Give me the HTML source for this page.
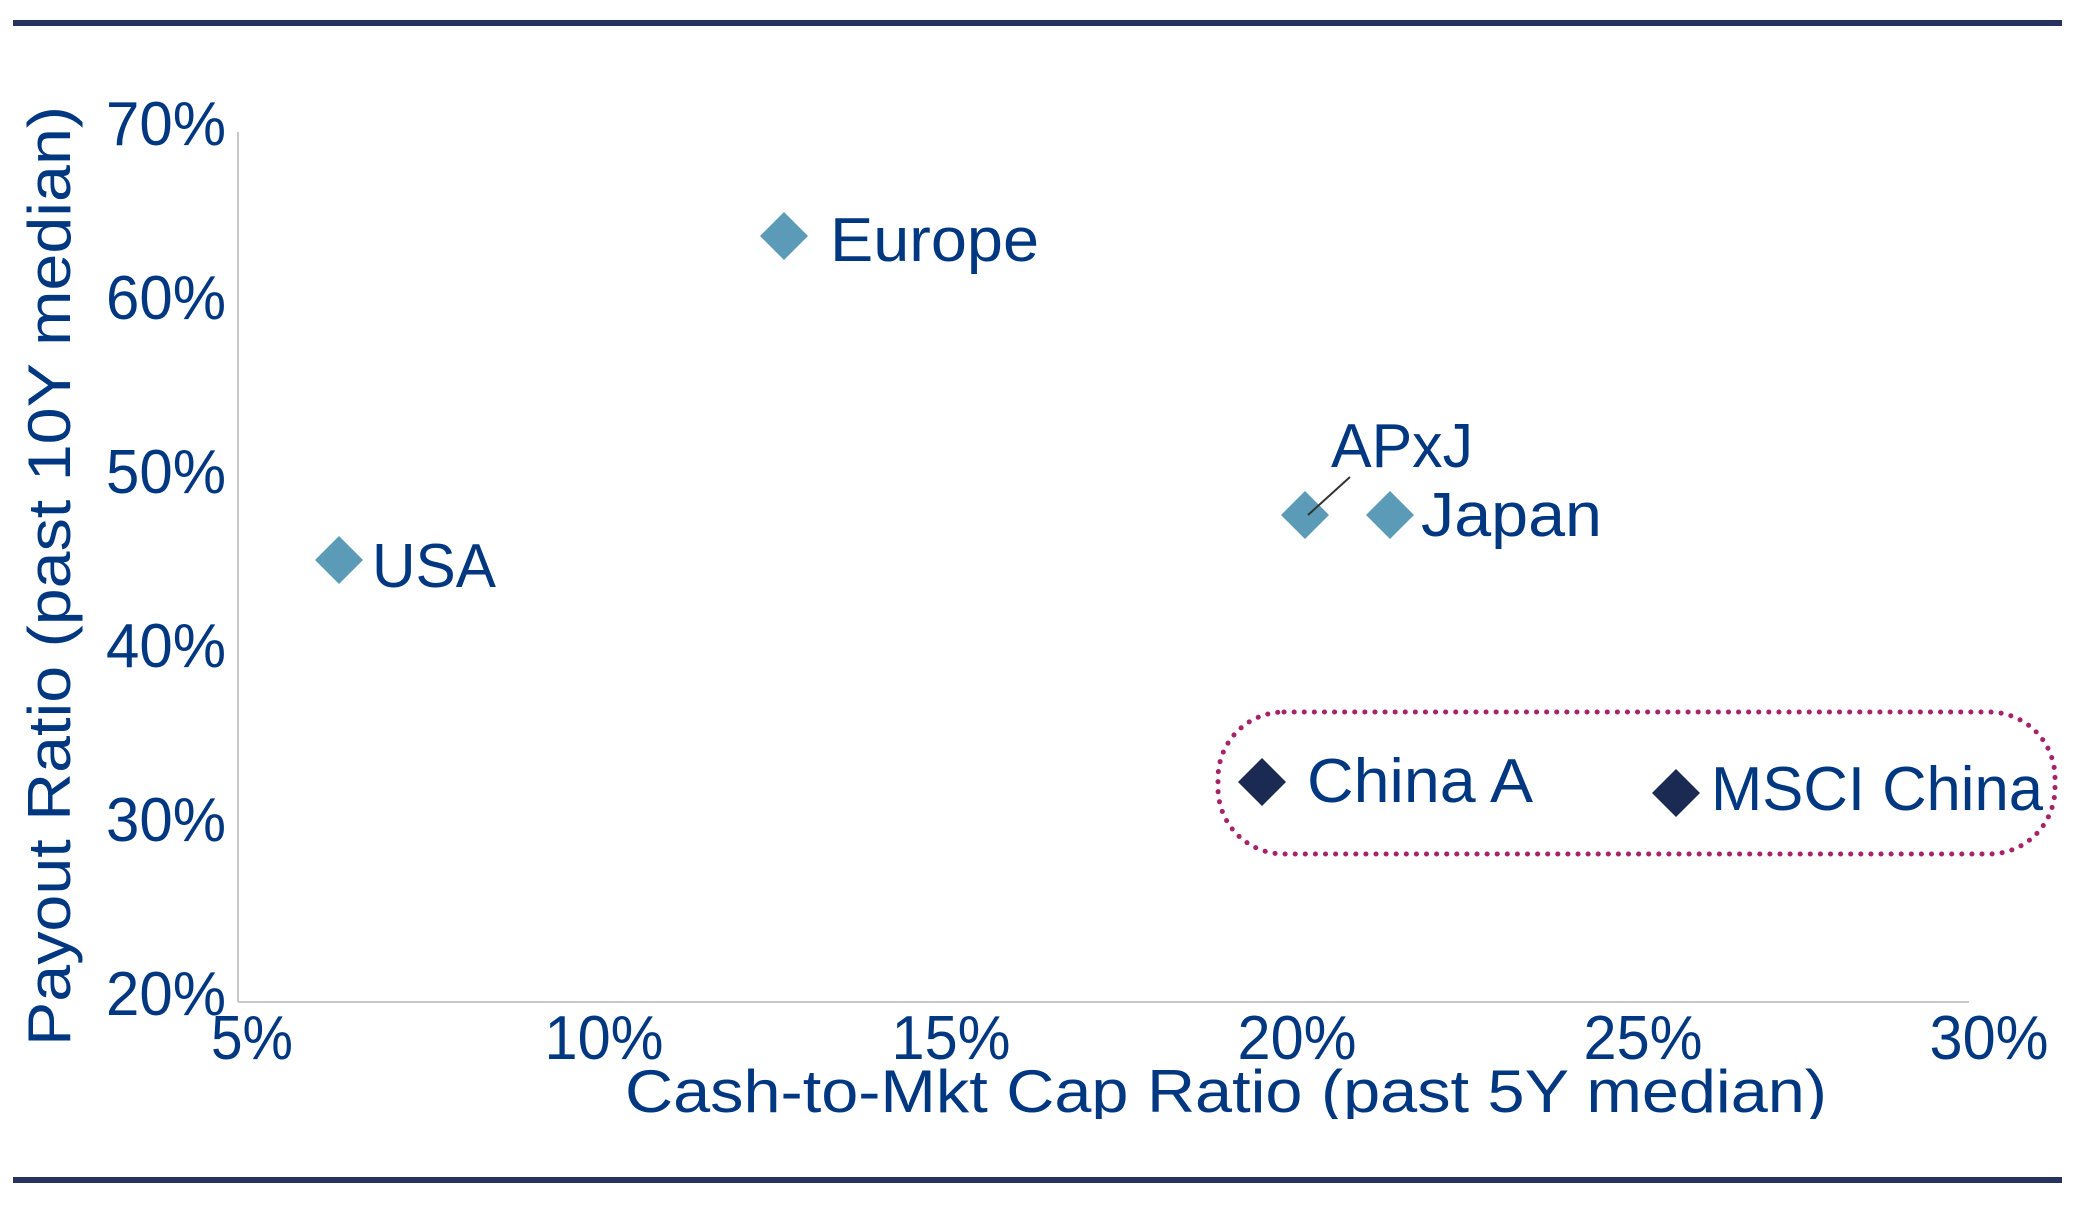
<!DOCTYPE html>
<html><head><meta charset="utf-8"><style>
html,body{margin:0;padding:0;background:#fff;}
svg{display:block;}
text{font-family:"Liberation Sans",sans-serif;fill:#003781;}
</style></head><body>
<svg width="2076" height="1206" viewBox="0 0 2076 1206" xmlns="http://www.w3.org/2000/svg">
<rect x="13" y="20" width="2049" height="6" fill="#26335F"/>
<rect x="13" y="1177" width="2049" height="6" fill="#26335F"/>
<line x1="238" y1="132" x2="238" y2="1002" stroke="#c8c8c8" stroke-width="2"/>
<line x1="238" y1="1002" x2="1969" y2="1002" stroke="#c8c8c8" stroke-width="2"/>
<g font-size="62" text-anchor="end">
<text x="226" y="145" textLength="120" lengthAdjust="spacingAndGlyphs">70%</text>
<text x="226" y="319" textLength="120" lengthAdjust="spacingAndGlyphs">60%</text>
<text x="226" y="493" textLength="120" lengthAdjust="spacingAndGlyphs">50%</text>
<text x="226" y="667" textLength="120" lengthAdjust="spacingAndGlyphs">40%</text>
<text x="226" y="841" textLength="120" lengthAdjust="spacingAndGlyphs">30%</text>
<text x="226" y="1015" textLength="120" lengthAdjust="spacingAndGlyphs">20%</text>
</g>
<g font-size="62" text-anchor="middle">
<text x="252" y="1059" textLength="82" lengthAdjust="spacingAndGlyphs">5%</text>
<text x="604" y="1059" textLength="119" lengthAdjust="spacingAndGlyphs">10%</text>
<text x="951" y="1059" textLength="119" lengthAdjust="spacingAndGlyphs">15%</text>
<text x="1297" y="1059" textLength="119" lengthAdjust="spacingAndGlyphs">20%</text>
<text x="1643" y="1059" textLength="119" lengthAdjust="spacingAndGlyphs">25%</text>
<text x="1989" y="1059" textLength="119" lengthAdjust="spacingAndGlyphs">30%</text>
</g>
<clipPath id="c"><rect x="0" y="0" width="2076" height="1119"/></clipPath>
<text x="625" y="1112" font-size="60" textLength="1202" lengthAdjust="spacingAndGlyphs" clip-path="url(#c)">Cash-to-Mkt Cap Ratio (past 5Y median)</text>
<text transform="translate(70,1046) rotate(-90)" font-size="60" textLength="940" lengthAdjust="spacingAndGlyphs">Payout Ratio (past 10Y median)</text>
<rect x="1218" y="712" width="837" height="142" rx="66" ry="66" fill="none" stroke="#A8226A" stroke-width="5" stroke-dasharray="0.1 10" stroke-linecap="round"/>
<g fill="#5B9BB8">
<polygon points="339,536 363,560 339,584 315,560"/>
<polygon points="784,212 808,236 784,260 760,236"/>
<polygon points="1305,491 1329,515 1305,539 1281,515"/>
<polygon points="1390,491 1414,515 1390,539 1366,515"/>
</g>
<g fill="#1B2A52">
<polygon points="1262,758 1286,782 1262,806 1238,782"/>
<polygon points="1676,769 1700,793 1676,817 1652,793"/>
</g>
<line x1="1350" y1="477" x2="1308" y2="515" stroke="#333" stroke-width="2"/>
<g font-size="62">
<text x="830" y="261" textLength="209" lengthAdjust="spacingAndGlyphs">Europe</text>
<text x="372" y="587" textLength="124" lengthAdjust="spacingAndGlyphs">USA</text>
<text x="1331" y="467" textLength="142" lengthAdjust="spacingAndGlyphs">APxJ</text>
<text x="1421" y="536" textLength="181" lengthAdjust="spacingAndGlyphs">Japan</text>
<text x="1307" y="802" textLength="226" lengthAdjust="spacingAndGlyphs">China A</text>
<text x="1711" y="810" textLength="332" lengthAdjust="spacingAndGlyphs">MSCI China</text>
</g>
</svg>
</body></html>
